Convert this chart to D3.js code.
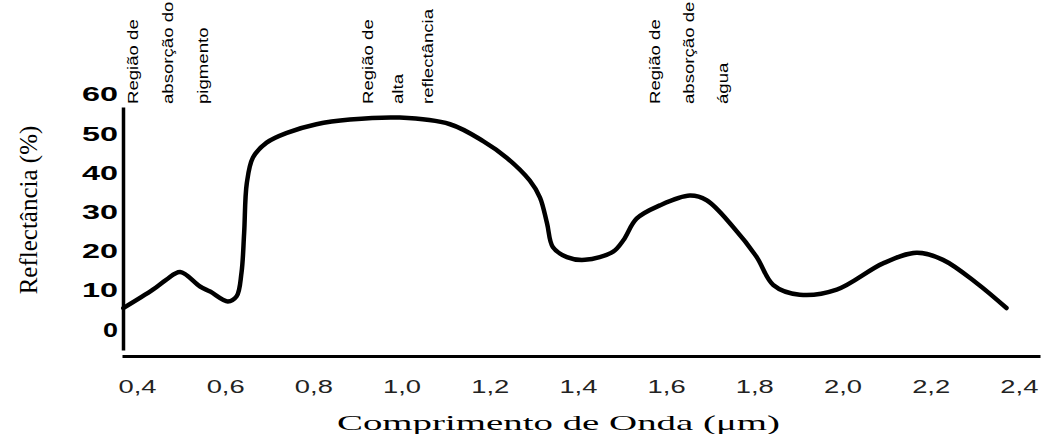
<!DOCTYPE html>
<html>
<head>
<meta charset="utf-8">
<script src="https://cdn.jsdelivr.net/npm/d3@7"></script>
<style>
  body { margin: 0; background: #fff; }
  svg { display: block; }
</style>
</head>
<body>
<script>
// wavelength (um) and reflectance (%)
var wavelength = [0.369, 0.436, 0.466, 0.498, 0.543, 0.566, 0.606, 0.626, 0.637, 0.643, 0.649, 0.663, 0.694, 0.740, 0.807, 0.883, 0.996,
  1.110, 1.185, 1.239, 1.291, 1.314, 1.330, 1.343, 1.375, 1.416, 1.480, 1.503, 1.533, 1.586, 1.654, 1.692, 1.752, 1.805, 1.843, 1.903, 1.987,
  2.092, 2.168, 2.228, 2.304, 2.372];
var reflectance = [5.2, 9.9, 12.4, 14.4, 10.7, 9.4, 6.9, 8.2, 14.2, 24.3, 37.0, 43.6, 47.4, 49.9, 52.1, 53.3, 53.8,
  52.1, 47.8, 43.5, 37.7, 33.4, 26.8, 20.8, 18.2, 17.5, 19.6, 22.5, 28.0, 31.4, 33.9, 32.7, 25.9, 18.3, 11.1, 8.6, 9.9,
  16.6, 19.3, 17.5, 11.6, 5.2];

var xTicks = [0.4, 0.6, 0.8, 1.0, 1.2, 1.4, 1.6, 1.8, 2.0, 2.2, 2.4];
var yTicks = [0, 10, 20, 30, 40, 50, 60];

// annotation columns: wavelength of the first line, then the lines
var regionAt = [0.402, 0.935, 1.586];
var regionLines = [
  ["Região de", "absorção do", "pigmento"],
  ["Região de", "alta", "reflectância"],
  ["Região de", "absorção de", "água"]
];
var regionGap = [35, 30, 34];

var width = 1041, height = 434;

var x = d3.scaleLinear().domain([0.366, 2.448]).range([122, 1040]);
var y = d3.scaleLinear().domain([-5.5, 56.5]).range([350, 107]);

var svg = d3.select("body").append("svg")
    .attr("width", width)
    .attr("height", height);

var commaFmt = function(d){ return d3.format(".1f")(d).replace(".", ","); };

// x axis
var xAxis = d3.axisBottom(x).tickValues(xTicks).tickSize(0).tickFormat(commaFmt);
var gx = svg.append("g")
    .attr("transform", "translate(0,356)")
    .call(xAxis);
gx.select(".domain").attr("stroke", "#000").attr("stroke-width", 3);
gx.selectAll("text")
    .attr("y", 37).attr("dy", 0)
    .attr("fill", "#222")
    .style("font-family", "Liberation Sans, Arial, sans-serif")
    .style("font-size", "19px")
    .attr("textLength", 38)
    .attr("lengthAdjust", "spacingAndGlyphs");

// y axis
var yAxis = d3.axisLeft(y).tickValues(yTicks).tickSize(0);
var gy = svg.append("g")
    .attr("transform", "translate(123,0)")
    .call(yAxis);
gy.select(".domain").attr("stroke", "#000").attr("stroke-width", 3.5);
gy.selectAll("text")
    .attr("x", -5).attr("dy", "0.36em")
    .attr("fill", "#000")
    .style("font-family", "Liberation Sans, Arial, sans-serif")
    .style("font-weight", "bold")
    .style("font-size", "21px")
    .attr("textLength", function(d){ return d === 0 ? 15 : 36; })
    .attr("lengthAdjust", "spacingAndGlyphs");

// curve
var pts = wavelength.map(function(w, i){ return [w, reflectance[i]]; });
var line = d3.line()
    .x(function(d){ return x(d[0]); })
    .y(function(d){ return y(d[1]); })
    .curve(d3.curveCatmullRom.alpha(0.5));

svg.append("path")
    .datum(pts)
    .attr("d", line)
    .attr("fill", "none")
    .attr("stroke", "#000")
    .attr("stroke-width", 4.5)
    .attr("stroke-linejoin", "round")
    .attr("stroke-linecap", "round");

// region labels (vertical, narrow)
regionLines.forEach(function(lines, g){
  lines.forEach(function(t, i){
    svg.append("text")
      .attr("transform", "translate(" + (x(regionAt[g]) + i * regionGap[g]) + ",104) rotate(-90) scale(1.2,1)")
      .attr("text-anchor", "start")
      .style("font-family", "Liberation Sans, Arial, sans-serif")
      .style("font-size", "15.5px")
      .attr("fill", "#000")
      .text(t);
  });
});

// axis titles
svg.append("text")
    .attr("transform", "translate(37,210) rotate(-90)")
    .attr("text-anchor", "middle")
    .style("font-family", "Liberation Serif, Times New Roman, serif")
    .style("font-size", "25px")
    .text("Reflectância (%)");

svg.append("text")
    .attr("x", 337).attr("y", 430)
    .style("font-family", "Liberation Serif, Times New Roman, serif")
    .style("font-size", "22px")
    .attr("textLength", 443)
    .attr("lengthAdjust", "spacingAndGlyphs")
    .text("Comprimento de Onda (μm)");
</script>
</body>
</html>
